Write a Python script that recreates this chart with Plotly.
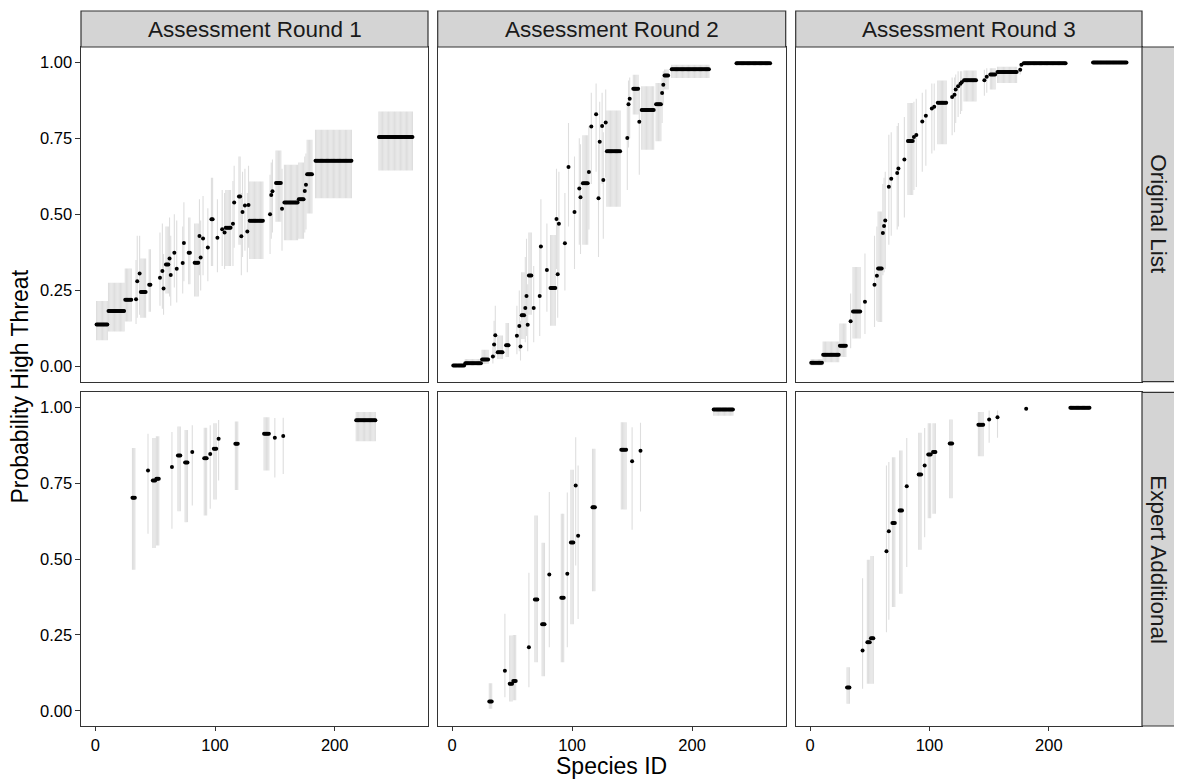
import plotly.graph_objects as go

# ---------------- DATA ----------------
# Each row: (first species ID, last species ID, probability, lower bound, upper bound)
# Runs of species that share the same estimate are stored as one row.
round1_original = [
    (1, 10, 0.138, 0.086, 0.215), (11, 24, 0.182, 0.115, 0.275), (25, 30, 0.219, 0.148, 0.322),
    (34, 34, 0.221, 0.14, 0.35), (35, 35, 0.280, 0.16, 0.43), (37, 37, 0.306, 0.17, 0.43),
    (38, 42, 0.245, 0.16, 0.355), (45, 46, 0.269, 0.18, 0.385), (54, 54, 0.292, 0.20, 0.44),
    (56, 56, 0.314, 0.19, 0.47), (57, 57, 0.256, 0.17, 0.37), (59, 61, 0.335, 0.24, 0.46),
    (62, 62, 0.355, 0.23, 0.49), (63, 63, 0.301, 0.20, 0.43), (66, 66, 0.374, 0.26, 0.50),
    (68, 68, 0.321, 0.21, 0.48), (73, 73, 0.340, 0.24, 0.46), (74, 74, 0.406, 0.28, 0.54),
    (78, 79, 0.374, 0.27, 0.49), (83, 86, 0.341, 0.23, 0.47), (87, 87, 0.429, 0.30, 0.55),
    (88, 88, 0.358, 0.25, 0.48), (90, 90, 0.421, 0.30, 0.56), (94, 94, 0.391, 0.28, 0.52),
    (97, 98, 0.484, 0.33, 0.62), (102, 102, 0.423, 0.31, 0.55), (106, 106, 0.451, 0.33, 0.58),
    (108, 108, 0.440, 0.32, 0.57), (109, 113, 0.456, 0.33, 0.58), (115, 115, 0.469, 0.33, 0.61),
    (116, 116, 0.539, 0.39, 0.66), (120, 121, 0.559, 0.40, 0.69), (122, 122, 0.428, 0.30, 0.57),
    (123, 123, 0.508, 0.36, 0.64), (125, 125, 0.529, 0.38, 0.65), (127, 127, 0.444, 0.31, 0.57),
    (128, 128, 0.531, 0.39, 0.66), (129, 140, 0.479, 0.353, 0.608), (146, 146, 0.500, 0.37, 0.63),
    (147, 147, 0.564, 0.42, 0.67), (148, 148, 0.576, 0.44, 0.68), (151, 155, 0.603, 0.476, 0.71),
    (156, 156, 0.518, 0.38, 0.65), (158, 169, 0.539, 0.415, 0.663), (170, 174, 0.550, 0.42, 0.67),
    (175, 175, 0.577, 0.44, 0.69), (176, 176, 0.597, 0.45, 0.70), (177, 181, 0.632, 0.503, 0.745),
    (184, 214, 0.676, 0.553, 0.778), (237, 265, 0.754, 0.644, 0.838),
]

round2_original = [
    (1, 10, 0.003, 0.0, 0.008), (11, 24, 0.011, 0.004, 0.025), (25, 30, 0.023, 0.008, 0.055),
    (34, 34, 0.033, 0.01, 0.07), (35, 35, 0.0725, 0.03, 0.15), (36, 36, 0.103, 0.03, 0.20),
    (38, 42, 0.047, 0.025, 0.102), (45, 47, 0.070, 0.031, 0.143), (54, 54, 0.101, 0.04, 0.20),
    (56, 56, 0.133, 0.05, 0.25), (57, 57, 0.066, 0.02, 0.15), (58, 60, 0.168, 0.09, 0.31),
    (61, 61, 0.192, 0.08, 0.36), (62, 62, 0.232, 0.10, 0.42), (63, 63, 0.137, 0.05, 0.27),
    (64, 66, 0.299, 0.17, 0.44), (68, 68, 0.192, 0.08, 0.33), (73, 73, 0.232, 0.10, 0.40),
    (74, 74, 0.394, 0.24, 0.55), (79, 79, 0.317, 0.18, 0.47), (82, 86, 0.258, 0.134, 0.432),
    (87, 87, 0.485, 0.32, 0.65), (88, 88, 0.303, 0.16, 0.47), (89, 89, 0.469, 0.30, 0.64),
    (94, 94, 0.405, 0.25, 0.57), (97, 97, 0.656, 0.46, 0.80), (102, 102, 0.508, 0.32, 0.69),
    (106, 106, 0.585, 0.40, 0.75), (107, 107, 0.556, 0.37, 0.73), (109, 113, 0.602, 0.40, 0.76),
    (114, 114, 0.639, 0.45, 0.79), (116, 116, 0.789, 0.60, 0.90), (120, 120, 0.829, 0.64, 0.93),
    (122, 122, 0.553, 0.36, 0.73), (123, 123, 0.739, 0.55, 0.87), (125, 125, 0.790, 0.60, 0.90),
    (126, 126, 0.613, 0.42, 0.77), (128, 128, 0.802, 0.62, 0.91), (129, 140, 0.707, 0.525, 0.841),
    (146, 146, 0.751, 0.58, 0.87), (147, 147, 0.862, 0.72, 0.94), (148, 148, 0.880, 0.75, 0.95),
    (151, 155, 0.913, 0.828, 0.959), (156, 156, 0.804, 0.63, 0.91), (158, 168, 0.843, 0.712, 0.921),
    (170, 174, 0.862, 0.74, 0.932), (175, 175, 0.899, 0.80, 0.95), (176, 176, 0.926, 0.86, 0.97),
    (177, 180, 0.956, 0.910, 0.976), (183, 214, 0.977, 0.948, 0.992), (237, 265, 0.997, 0.993, 0.999),
]

round3_original = [
    (1, 10, 0.012, 0.003, 0.025), (11, 24, 0.0385, 0.014, 0.082), (25, 30, 0.068, 0.031, 0.141),
    (34, 34, 0.149, 0.06, 0.24), (36, 42, 0.181, 0.092, 0.327), (46, 46, 0.213, 0.107, 0.371),
    (54, 54, 0.269, 0.13, 0.43), (56, 56, 0.298, 0.15, 0.46), (57, 60, 0.322, 0.146, 0.509),
    (61, 61, 0.439, 0.30, 0.60), (62, 62, 0.462, 0.31, 0.62), (63, 63, 0.480, 0.32, 0.64),
    (66, 66, 0.591, 0.40, 0.762), (68, 68, 0.617, 0.43, 0.77), (73, 73, 0.636, 0.45, 0.79),
    (74, 74, 0.651, 0.46, 0.80), (79, 79, 0.680, 0.49, 0.82), (82, 86, 0.741, 0.564, 0.866),
    (87, 87, 0.754, 0.58, 0.87), (89, 89, 0.761, 0.59, 0.88), (94, 94, 0.805, 0.64, 0.90),
    (97, 97, 0.824, 0.66, 0.91), (102, 102, 0.848, 0.70, 0.93), (104, 104, 0.854, 0.71, 0.93),
    (107, 114, 0.867, 0.73, 0.94), (119, 119, 0.886, 0.76, 0.95), (121, 121, 0.893, 0.77, 0.95),
    (122, 122, 0.910, 0.80, 0.96), (124, 124, 0.921, 0.82, 0.97), (126, 126, 0.929, 0.83, 0.97),
    (127, 127, 0.934, 0.84, 0.97), (129, 139, 0.941, 0.871, 0.973), (146, 146, 0.941, 0.89, 0.975),
    (148, 148, 0.952, 0.90, 0.98), (151, 155, 0.960, 0.91, 0.98), (157, 173, 0.968, 0.932, 0.985),
    (176, 176, 0.975, 0.96, 0.99), (177, 177, 0.992, 0.985, 0.997), (179, 214, 0.997, 0.995, 0.999),
    (237, 265, 0.999, 0.998, 1.0),
]

round1_expert = [
    (31, 33, 0.702, 0.465, 0.866), (44, 44, 0.792, 0.584, 0.913), (48, 50, 0.759, 0.537, 0.899),
    (51, 53, 0.765, 0.545, 0.905), (64, 64, 0.804, 0.600, 0.919), (69, 71, 0.842, 0.658, 0.937),
    (75, 77, 0.819, 0.622, 0.926), (81, 81, 0.853, 0.677, 0.941), (91, 93, 0.833, 0.644, 0.933),
    (96, 96, 0.847, 0.666, 0.941), (99, 101, 0.864, 0.697, 0.948), (103, 103, 0.897, 0.759, 0.959),
    (117, 119, 0.880, 0.728, 0.954), (141, 145, 0.913, 0.792, 0.968), (150, 150, 0.900, 0.769, 0.965),
    (157, 157, 0.906, 0.781, 0.966), (218, 234, 0.958, 0.889, 0.985),
]

round2_expert = [
    (31, 33, 0.031, 0.007, 0.091), (44, 44, 0.132, 0.045, 0.320), (48, 50, 0.089, 0.031, 0.248),
    (51, 53, 0.098, 0.035, 0.250), (64, 64, 0.210, 0.078, 0.455), (69, 71, 0.367, 0.160, 0.644),
    (75, 77, 0.285, 0.114, 0.554), (81, 81, 0.449, 0.210, 0.721), (91, 93, 0.373, 0.160, 0.650),
    (96, 96, 0.452, 0.210, 0.720), (99, 101, 0.555, 0.285, 0.795), (103, 103, 0.743, 0.479, 0.902),
    (105, 105, 0.577, 0.303, 0.809), (117, 119, 0.671, 0.394, 0.864), (141, 145, 0.861, 0.664, 0.951),
    (150, 150, 0.823, 0.597, 0.935), (157, 157, 0.857, 0.657, 0.950), (218, 234, 0.993, 0.973, 0.998),
]

round3_expert = [
    (31, 33, 0.077, 0.023, 0.144), (44, 44, 0.199, 0.073, 0.437), (48, 50, 0.226, 0.089, 0.498),
    (51, 53, 0.239, 0.089, 0.510), (64, 64, 0.526, 0.259, 0.809), (66, 66, 0.592, 0.300, 0.820),
    (69, 71, 0.619, 0.342, 0.836), (75, 77, 0.660, 0.386, 0.858), (81, 81, 0.740, 0.474, 0.899),
    (91, 93, 0.779, 0.531, 0.917), (96, 96, 0.809, 0.572, 0.932), (99, 101, 0.845, 0.635, 0.948),
    (103, 105, 0.853, 0.650, 0.948), (117, 119, 0.881, 0.701, 0.960), (141, 145, 0.943, 0.839, 0.985),
    (150, 150, 0.960, 0.884, 0.990), (157, 157, 0.968, 0.900, 0.990), (181, 181, 0.996, 0.990, 0.999),
    (218, 234, 0.999, 0.997, 1.0),
]

col_labels = ["Assessment Round 1", "Assessment Round 2", "Assessment Round 3"]
row_labels = ["Original List", "Expert Additional"]
x_ticks = [0, 100, 200]
y_ticks = [0.0, 0.25, 0.5, 0.75, 1.0]
y_tick_text = ["0.00", "0.25", "0.50", "0.75", "1.00"]
x_title = "Species ID"
y_title = "Probability High Threat"

panels = [
    [round1_original, round2_original, round3_original],
    [round1_expert, round2_expert, round3_expert],
]

# ---------------- LAYOUT ----------------
# Target positions are screen pixels; the page body adds an 8px offset.
OFF = 8
W, H = 1182 - 2 * OFF, 780 - OFF
col_px = [(81, 428), (437.7, 785.7), (795.7, 1142)]
row_px = [(47, 381.7), (392.3, 726)]
strip_top_px = 11
strip_right_px = 1176

ML = col_px[0][0] - OFF
MR = W - (col_px[2][1] - OFF)
MT = row_px[0][0] - OFF
MB = H - (row_px[1][1] - OFF)
PW, PH = W - ML - MR, H - MT - MB

FONT = "Liberation Sans, Arial, Helvetica, sans-serif"
BORDER = "#333333"
STRIP_FILL = "#D4D4D4"
BAR_COLOR = "#DEDEDE"


def fx(px):
    return (px - OFF - ML) / PW


def fy(py):
    return (H - MB - (py - OFF)) / PH


fig = go.Figure()
layout = dict(
    width=W, height=H,
    margin=dict(l=ML, r=MR, t=MT, b=MB, autoexpand=False),
    paper_bgcolor="white", plot_bgcolor="white",
    showlegend=False,
    font=dict(family=FONT, color="black"),
)

for r in range(2):
    for c in range(3):
        n = r * 3 + c + 1
        xa, ya = f"x{n}" if n > 1 else "x", f"y{n}" if n > 1 else "y"
        rows = panels[r][c]
        ex, ey, dx, dy = [], [], [], []
        for first, last, p, lo, hi in rows:
            for sid in range(first, last + 1):
                ex += [sid, sid, None]
                ey += [lo, hi, None]
                dx.append(sid)
                dy.append(p)
        fig.add_trace(go.Scatter(x=ex, y=ey, mode="lines", xaxis=xa, yaxis=ya,
                                 line=dict(color=BAR_COLOR, width=1.1), hoverinfo="skip"))
        fig.add_trace(go.Scatter(x=dx, y=dy, mode="markers", xaxis=xa, yaxis=ya,
                                 marker=dict(color="black", size=4, line=dict(width=0))))

        bottom = r == 1
        left = c == 0
        layout[f"xaxis{n}" if n > 1 else "xaxis"] = dict(
            domain=[fx(col_px[c][0]), fx(col_px[c][1])], anchor=ya,
            range=[-12, 278], showgrid=False, zeroline=False,
            showline=True, mirror=True, linecolor=BORDER, linewidth=1.2,
            tickvals=x_ticks, showticklabels=bottom,
            ticks="outside" if bottom else "", ticklen=4, tickcolor=BORDER, tickwidth=1,
            tickfont=dict(size=16.5, family=FONT, color="black"),
        )
        layout[f"yaxis{n}" if n > 1 else "yaxis"] = dict(
            domain=[fy(row_px[r][1]), fy(row_px[r][0])], anchor=xa,
            range=[-0.05, 1.05], showgrid=False, zeroline=False,
            showline=True, mirror=True, linecolor=BORDER, linewidth=1.2,
            tickvals=y_ticks, ticktext=y_tick_text, showticklabels=left,
            ticks="outside" if left else "", ticklen=4.5, tickcolor=BORDER, tickwidth=1,
            tickfont=dict(size=16.5, family=FONT, color="black"),
        )

shapes, annotations = [], []
for c in range(3):
    x0, x1 = fx(col_px[c][0]), fx(col_px[c][1])
    shapes.append(dict(type="rect", xref="paper", yref="paper", x0=x0, x1=x1,
                       y0=fy(row_px[0][0]), y1=fy(strip_top_px),
                       fillcolor=STRIP_FILL, line=dict(color=BORDER, width=1.2)))
    annotations.append(dict(text=col_labels[c], xref="paper", yref="paper",
                            x=(x0 + x1) / 2, y=(fy(row_px[0][0]) + fy(strip_top_px)) / 2,
                            xanchor="center", yanchor="middle", showarrow=False,
                            font=dict(size=22.5, family=FONT, color="#1A1A1A")))
for r in range(2):
    y0, y1 = fy(row_px[r][1]), fy(row_px[r][0])
    shapes.append(dict(type="rect", xref="paper", yref="paper", x0=fx(col_px[2][1]),
                       x1=fx(strip_right_px), y0=y0, y1=y1,
                       fillcolor=STRIP_FILL, line=dict(color=BORDER, width=1.2)))
    annotations.append(dict(text=row_labels[r], xref="paper", yref="paper",
                            x=(fx(col_px[2][1]) + fx(strip_right_px)) / 2, y=(y0 + y1) / 2,
                            xanchor="center", yanchor="middle", showarrow=False, textangle=90,
                            font=dict(size=22.5, family=FONT, color="#1A1A1A")))

annotations.append(dict(text=x_title, xref="paper", yref="paper",
                        x=fx((col_px[0][0] + col_px[2][1]) / 2), y=fy(766),
                        xanchor="center", yanchor="middle", showarrow=False,
                        font=dict(size=23, family=FONT, color="black")))
annotations.append(dict(text=y_title, xref="paper", yref="paper",
                        x=fx(19), y=fy((row_px[0][0] + row_px[1][1]) / 2),
                        xanchor="center", yanchor="middle", showarrow=False, textangle=-90,
                        font=dict(size=23, family=FONT, color="black")))

layout["shapes"] = shapes
layout["annotations"] = annotations
fig.update_layout(**layout)
fig.write_html("out.html")
